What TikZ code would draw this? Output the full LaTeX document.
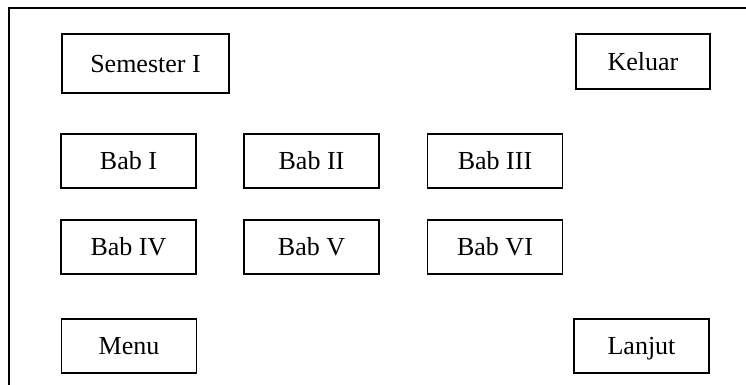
\documentclass[tikz,border=0pt]{standalone}
\usepackage{fontspec}
\setmainfont{Liberation Serif}
\begin{document}
\begin{tikzpicture}[x=1pt,y=-1pt,
  tombol/.style={draw,line width=1.3pt,inner sep=0mm,minimum width=135pt,minimum height=54pt,text height=17.5pt,text depth=0pt,font=\fontsize{26}{30}\selectfont}]
\useasboundingbox (0,0) rectangle (746,385);
\draw[line width=2pt] (9,386) -- (9,8) -- (747,8);
\node[tombol,minimum width=167pt,minimum height=59pt] (sem) at (145.5,63.5) {Semester I};
\node[tombol,minimum width=134pt,minimum height=55pt] (keluar) at (643,61.5) {Keluar};
\foreach \x/\y/\n/\t in {128.5/161/bab1/Bab I, 311.5/161/bab2/Bab II, 495/161/bab3/Bab III, 128.5/247/bab4/Bab IV, 311.5/247/bab5/Bab V, 495/247/bab6/Bab VI, 129/346/menu/Menu, 641.5/346/lanjut/Lanjut}
  \node[tombol] (\n) at (\x,\y) {\t};

\end{tikzpicture}
\end{document}
